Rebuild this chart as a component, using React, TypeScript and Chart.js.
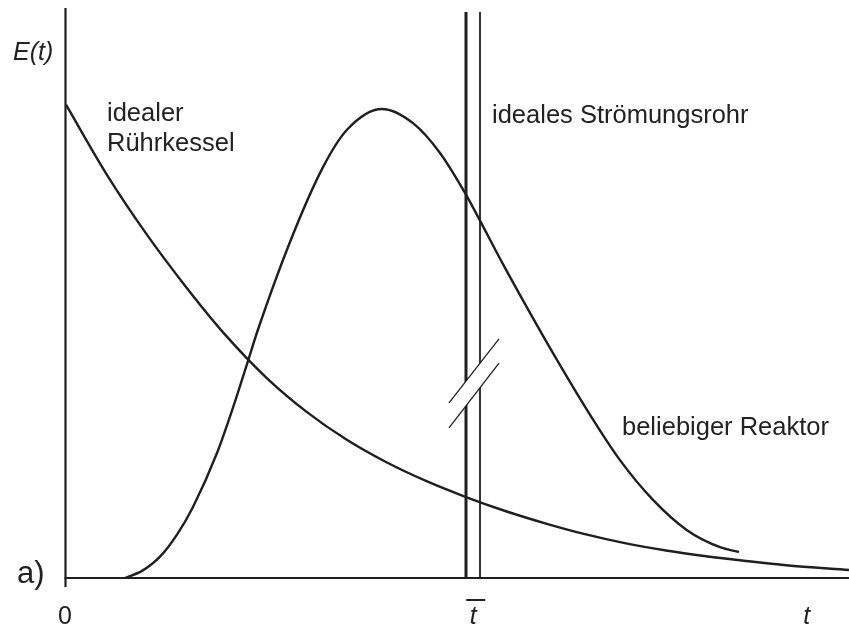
import React, { useEffect, useRef } from "react";
import { Chart, registerables } from "chart.js";

Chart.register(...registerables);

// Time axis t (t̄ = 5) and residence-time density E(t)
const X_MAX = 9.7875;
const Y_MAX = 1.2;

// idealer Rührkessel: exponential decay
const cstrT = [0, 0.5, 1.0, 1.5, 2.0, 2.5, 3.0, 3.5, 4.0, 4.5, 5.0, 5.5, 6.0, 6.5, 7.0, 7.5, 8.0, 8.5, 9.0, 9.7875];
const cstrE = [1.0, 0.855, 0.728, 0.615, 0.512, 0.424, 0.352, 0.293, 0.245, 0.205, 0.171, 0.141, 0.115, 0.092, 0.073, 0.058, 0.046, 0.036, 0.027, 0.017];

// beliebiger Reaktor: skewed bell curve
const realT = [0.7375, 0.95, 1.175, 1.4, 1.5875, 1.8875, 2.0875, 2.2625, 2.4, 2.8, 3.2125, 3.5125, 3.95, 4.3375, 4.675, 5.0, 5.175, 5.4625, 5.8, 6.0875, 6.5125, 6.925, 7.3375, 7.7625, 8.175, 8.4125];
const realE = [0, 0.015, 0.045, 0.095, 0.15, 0.264, 0.36, 0.452, 0.525, 0.71, 0.868, 0.947, 0.991, 0.961, 0.898, 0.81, 0.755, 0.663, 0.56, 0.475, 0.355, 0.249, 0.165, 0.101, 0.065, 0.055];

// ideales Strömungsrohr: Dirac pulse at t̄, drawn as a double line
const pfrT = [5.0, 5.175];
const pfrTop = 1.196;

// axis break on the pulse (two parallel strokes: [t1, E1, t2, E2])
const breakStrokes = [
  [4.7875, 0.370, 5.4125, 0.505],
  [4.7875, 0.317, 5.4125, 0.454],
];

// tick labels on the time axis
const xTickValues = [0, 5.09, 9.26];
const xTickLabels = ["0", "t", "t"];

const INK = "#1f1f1f";
const FONT = "'Liberation Sans', Arial, Helvetica, sans-serif";

const toPoints = (xs: number[], ys: number[]) => xs.map((x, i) => ({ x, y: ys[i] }));

const decorations = {
  id: "decorations",
  beforeDatasetsDraw(chart: any) {
    const { ctx } = chart;
    const xs = chart.scales.x;
    const ys = chart.scales.y;
    ctx.save();
    ctx.strokeStyle = INK;
    ctx.lineCap = "butt";
    // axes
    ctx.lineWidth = 2.2;
    const x0 = xs.getPixelForValue(0);
    const y0 = ys.getPixelForValue(0);
    ctx.beginPath();
    ctx.moveTo(x0 - 0.5, 8);
    ctx.lineTo(x0 - 0.5, y0 + 9);
    ctx.stroke();
    ctx.beginPath();
    ctx.moveTo(x0 - 1.5, y0);
    ctx.lineTo(xs.getPixelForValue(X_MAX), y0);
    ctx.stroke();
    ctx.restore();
  },
  afterDatasetsDraw(chart: any) {
    const { ctx } = chart;
    const xs = chart.scales.x;
    const ys = chart.scales.y;
    const px = (v: number) => xs.getPixelForValue(v);
    const py = (v: number) => ys.getPixelForValue(v);
    ctx.save();
    // break: clear the band between the strokes, then draw them
    const [a, b] = breakStrokes;
    ctx.fillStyle = "#ffffff";
    ctx.beginPath();
    ctx.moveTo(px(a[0]), py(a[1]));
    ctx.lineTo(px(a[2]), py(a[3]));
    ctx.lineTo(px(b[2]), py(b[3]));
    ctx.lineTo(px(b[0]), py(b[1]));
    ctx.closePath();
    ctx.fill();
    ctx.strokeStyle = INK;
    ctx.lineWidth = 1.3;
    for (const s of breakStrokes) {
      ctx.beginPath();
      ctx.moveTo(px(s[0]), py(s[1]));
      ctx.lineTo(px(s[2]), py(s[3]));
      ctx.stroke();
    }

    // texts
    ctx.fillStyle = "#222222";
    ctx.textBaseline = "alphabetic";
    ctx.textAlign = "left";
    ctx.font = `italic 25px ${FONT}`;
    ctx.fillText("E(t)", 13, 60);
    ctx.font = `25.5px ${FONT}`;
    ctx.fillText("idealer", 107, 121);
    ctx.fillText("Rührkessel", 107, 151);
    ctx.fillText("ideales Strömungsrohr", 492, 123);
    ctx.fillText("beliebiger Reaktor", 622, 435);
    ctx.font = `31px ${FONT}`;
    ctx.fillText("a)", 17, 583);

    // time-axis tick labels
    ctx.textAlign = "center";
    xTickValues.forEach((v, i) => {
      ctx.font = i === 0 ? `25px ${FONT}` : `italic 25px ${FONT}`;
      ctx.fillText(xTickLabels[i], px(v) + (i === 0 ? -1 : 0), 624);
    });
    // overbar for t̄
    ctx.lineWidth = 2;
    ctx.strokeStyle = "#222222";
    ctx.beginPath();
    ctx.moveTo(px(xTickValues[1]) - 7, 600);
    ctx.lineTo(px(xTickValues[1]) + 12, 600);
    ctx.stroke();
    ctx.restore();
  },
};

export default function App() {
  const ref = useRef<HTMLCanvasElement | null>(null);
  useEffect(() => {
    if (!ref.current) return;
    const curve = {
      borderColor: INK,
      borderWidth: 2.4,
      pointRadius: 0,
      cubicInterpolationMode: "monotone" as const,
      fill: false,
      clip: false as const,
    };
    const pulse = {
      borderColor: INK,
      pointRadius: 0,
      tension: 0,
      fill: false,
      clip: false as const,
    };
    const chart = new Chart(ref.current, {
      type: "line",
      data: {
        datasets: [
          { label: "idealer Rührkessel", data: toPoints(cstrT, cstrE), ...curve },
          { label: "beliebiger Reaktor", data: toPoints(realT, realE), ...curve },
          {
            label: "ideales Strömungsrohr",
            data: [{ x: pfrT[0], y: 0 }, { x: pfrT[0], y: pfrTop }],
            borderWidth: 3,
            ...pulse,
          },
          {
            label: "ideales Strömungsrohr (2)",
            data: [{ x: pfrT[1], y: 0 }, { x: pfrT[1], y: pfrTop }],
            borderWidth: 1.8,
            ...pulse,
          },
        ],
      },
      options: {
        animation: false,
        responsive: true,
        maintainAspectRatio: false,
        layout: { padding: { left: 66, right: 0, top: 10, bottom: 53 } },
        scales: {
          x: { type: "linear", min: 0, max: X_MAX, display: false },
          y: { type: "linear", min: 0, max: Y_MAX, display: false },
        },
        plugins: {
          legend: { display: false },
          tooltip: { enabled: false },
        },
      },
      plugins: [decorations],
    });
    return () => chart.destroy();
  }, []);
  return (
    <div style={{ position: "fixed", left: 0, top: 0, width: 849, height: 631, background: "#ffffff" }}>
      <canvas ref={ref} />
    </div>
  );
}
